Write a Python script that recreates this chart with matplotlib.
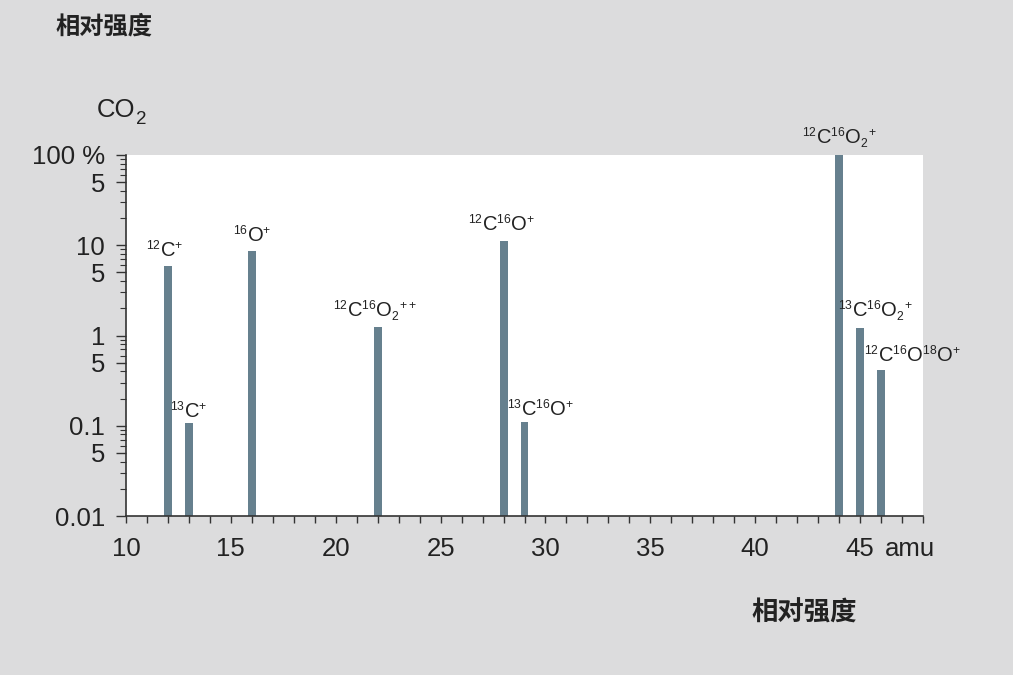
import matplotlib
matplotlib.use("Agg")
import matplotlib.pyplot as plt
from matplotlib.ticker import FixedLocator, NullFormatter
import matplotlib._mathtext as _mt

_mt.SHRINK_FACTOR = 0.6  # smaller super/subscripts like the reference

# ---- data ----
masses = [12, 13, 16, 22, 28, 29, 44, 45, 46]
intensities = [5.9, 0.097, 8.6, 1.22, 11.2, 0.1, 100, 1.21, 0.40]
ion_labels = [
    r"${}^{12}\mathrm{C}^{+}$",
    r"${}^{13}\mathrm{C}^{+}$",
    r"${}^{16}\mathrm{O}^{+}$",
    r"${}^{12}\mathrm{C}^{16}\mathrm{O}_{2}{}^{++}$",
    r"${}^{12}\mathrm{C}^{16}\mathrm{O}^{+}$",
    r"${}^{13}\mathrm{C}^{16}\mathrm{O}^{+}$",
    r"${}^{12}\mathrm{C}^{16}\mathrm{O}_{2}{}^{+}$",
    r"${}^{13}\mathrm{C}^{16}\mathrm{O}_{2}{}^{+}$",
    r"${}^{12}\mathrm{C}^{16}\mathrm{O}^{18}\mathrm{O}^{+}$",
]
label_dx = [-3, 0, 0, -3, -2, 16, 0, 15, 31]  # pixel offsets of labels

x_major = [10, 15, 20, 25, 30, 35, 40, 45]
x_major_labels = ["10", "15", "20", "25", "30", "35", "40", "45"]
y_major = [0.01, 0.05, 0.1, 0.5, 1, 5, 10, 50, 100]
y_major_labels = ["0.01", "5", "0.1", "5", "1", "5", "10", "5", "100 %"]

title_cn = "相对强度"
compound_main = "CO"
compound_sub = "2"
x_unit = "amu"

# ---- style ----
plt.rcParams["font.family"] = ["Liberation Sans", "DejaVu Sans"]
plt.rcParams["mathtext.fontset"] = "custom"
plt.rcParams["mathtext.rm"] = "Liberation Sans"
plt.rcParams["mathtext.it"] = "Liberation Sans:italic"
plt.rcParams["mathtext.bf"] = "Liberation Sans:bold"

bg = "#dcdcdd"
bar_color = "#66808e"
txt = "#222222"
axc = "#333333"

fig = plt.figure(figsize=(10.13, 6.75), dpi=100, facecolor=bg)
ax = fig.add_axes([126 / 1013, 1 - 516 / 675, (923 - 126) / 1013, (516 - 155) / 675])
ax.set_facecolor("white")

ax.set_yscale("log")
ax.bar(masses, intensities, width=0.38, color=bar_color, bottom=0.01)
ax.set_xlim(10, 48)
ax.set_ylim(0.01, 100)

for m, v, lab, dx in zip(masses, intensities, ion_labels, label_dx):
    ax.annotate(lab, xy=(m, v), xytext=(dx, 5), textcoords="offset pixels",
                ha="center", va="bottom", fontsize=14.5, color=txt)

for s in ["top", "right"]:
    ax.spines[s].set_visible(False)
for s in ["left", "bottom"]:
    ax.spines[s].set_color(axc)
    ax.spines[s].set_linewidth(1.2)

ax.xaxis.set_major_locator(FixedLocator(x_major))
ax.set_xticklabels(x_major_labels)
ax.xaxis.set_minor_locator(FixedLocator(list(range(10, 49))))
ax.xaxis.set_minor_formatter(NullFormatter())

ax.yaxis.set_major_locator(FixedLocator(y_major))
ax.set_yticklabels(y_major_labels)
ymin = []
for d in [0.01, 0.1, 1, 10]:
    for k in [2, 3, 4, 6, 7, 8, 9]:
        ymin.append(d * k)
ax.yaxis.set_minor_locator(FixedLocator(ymin))
ax.yaxis.set_minor_formatter(NullFormatter())

ax.tick_params(axis="x", which="both", direction="out", length=5, width=1,
               color=axc, labelsize=18.5, labelcolor=txt, pad=10)
ax.tick_params(axis="y", which="major", direction="out", length=7, width=1,
               color=axc, labelsize=18.5, labelcolor=txt, pad=8)
ax.tick_params(axis="y", which="minor", direction="out", length=4, width=0.8,
               color=axc)

fig.text(885 / 1013, 1 - 549 / 675, x_unit, ha="left", va="center",
         fontsize=18.5, color=txt)
fig.text(97 / 1013, 1 - 117 / 675, compound_main, ha="left", va="baseline",
         fontsize=18.5, color=txt)
fig.text(136 / 1013, 1 - 124 / 675, compound_sub, ha="left", va="baseline",
         fontsize=13.5, color=txt)
fig.text(55 / 1013, 1 - 26.5 / 675, title_cn, ha="left", va="center",
         fontsize=17.5, color=txt, family=["Noto Sans CJK SC", "DejaVu Sans"],
         weight="bold")
fig.text(804 / 1013, 1 - 613 / 675, title_cn, ha="center", va="center",
         fontsize=19, color=txt, family=["Noto Sans CJK SC", "DejaVu Sans"],
         weight="bold")

fig.savefig("out.png", dpi=100, facecolor=bg)
